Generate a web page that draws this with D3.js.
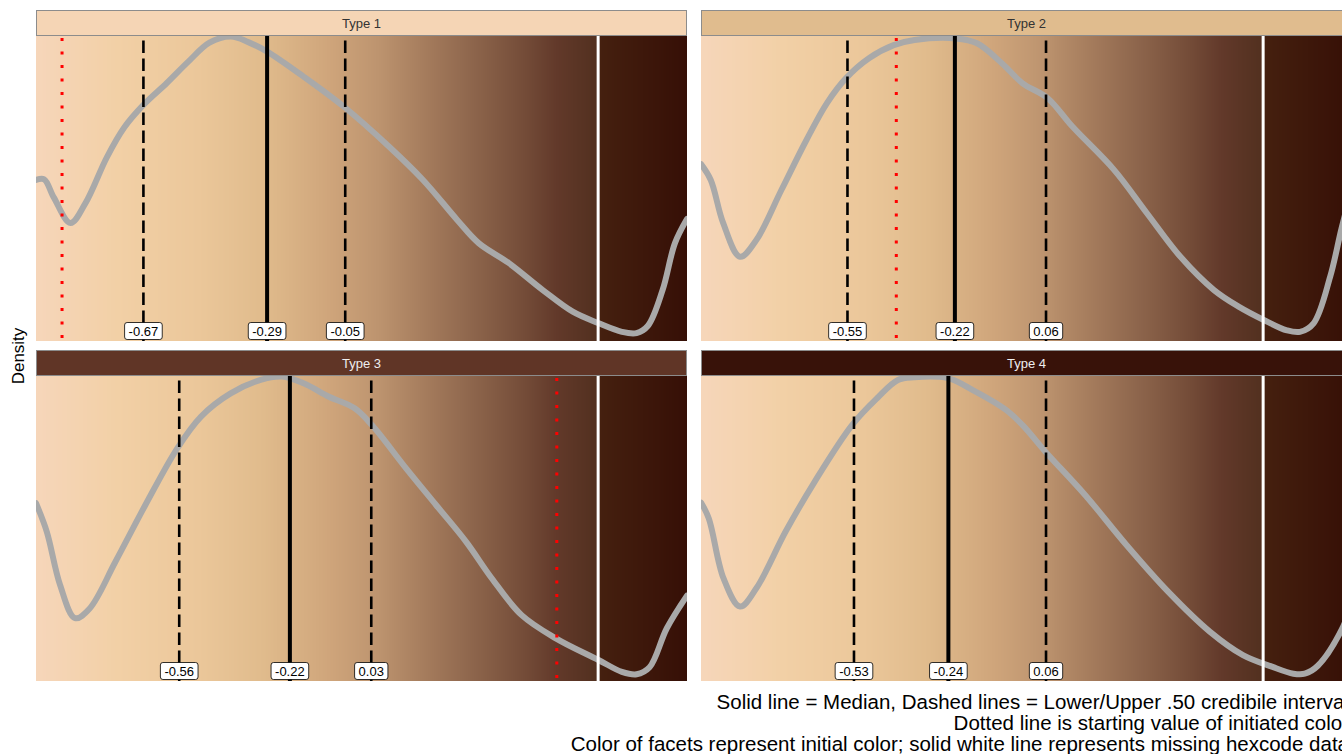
<!DOCTYPE html>
<html>
<head>
<meta charset="utf-8">
<script src="https://cdn.jsdelivr.net/npm/d3@7"></script>
<style>
  html, body { margin: 0; padding: 0; background: #fff; }
  svg { display: block; font-family: "Liberation Sans", Arial, sans-serif; }
</style>
</head>
<body>
<svg id="chart" width="1342" height="754"></svg>
<script>
// ---------------- DATA ----------------
const categories = ["Type 1", "Type 2", "Type 3", "Type 4"];
const stripColors = ["#f5d5b5", "#e0bc8e", "#603526", "#381209"];
const stripTextColors = ["#333333", "#333333", "#eeeeee", "#eeeeee"];
const lowerValues = [-0.67, -0.55, -0.56, -0.53];
const medianValues = [-0.29, -0.22, -0.22, -0.24];
const upperValues = [-0.05, 0.06, 0.03, 0.06];
const startValues = [-0.92, -0.40, 0.60, 0.99];
const missingHexValue = 0.727;

// skin-tone hex codes along the colour axis
const toneValues = [-1.0, -0.75, -0.5, -0.3, -0.1, 0.05, 0.2, 0.35, 0.5, 0.6, 0.725];
const toneColors = ["#f6d6ba", "#f2d0a6", "#ebc79a", "#e0bb8c", "#cfa57b", "#bd946f",
                    "#a47b5c", "#8c644b", "#744c38", "#62392a", "#52301f"];
const darkToneValues = [0.73, 1.0];
const darkToneColors = ["#45200f", "#360f06"];

// relative density (x = colour score, y = density scaled to panel max)
const density1 = [[-1.0,0.528],[-0.975,0.53],[-0.945,0.47],[-0.894,0.387],[-0.848,0.452],[-0.782,0.603],
  [-0.729,0.70],[-0.67,0.774],[-0.598,0.846],[-0.532,0.916],[-0.467,0.978],[-0.401,0.998],[-0.348,0.98],
  [-0.29,0.949],[-0.178,0.867],[-0.054,0.768],[0.085,0.637],[0.189,0.528],[0.294,0.397],[0.36,0.321],
  [0.452,0.256],[0.557,0.167],[0.649,0.096],[0.727,0.059],[0.80,0.03],[0.845,0.026],[0.88,0.05],
  [0.925,0.167],[0.963,0.321],[1.0,0.40]];
const density2 = [[-1.0,0.58],[-0.97,0.528],[-0.932,0.387],[-0.88,0.276],[-0.83,0.331],[-0.753,0.495],
  [-0.676,0.659],[-0.613,0.78],[-0.555,0.861],[-0.484,0.927],[-0.408,0.97],[-0.344,0.987],[-0.217,0.992],
  [-0.152,0.976],[-0.075,0.91],[-0.012,0.845],[0.065,0.796],[0.141,0.703],[0.269,0.561],[0.37,0.419],
  [0.473,0.276],[0.576,0.167],[0.653,0.112],[0.729,0.069],[0.80,0.035],[0.84,0.03],[0.882,0.058],
  [0.933,0.211],[0.968,0.37],[1.0,0.50]];
const density3 = [[-1.0,0.583],[-0.967,0.49],[-0.926,0.315],[-0.88,0.206],[-0.835,0.238],[-0.756,0.391],
  [-0.664,0.577],[-0.566,0.763],[-0.493,0.867],[-0.402,0.943],[-0.31,0.987],[-0.244,0.998],[-0.178,0.976],
  [-0.10,0.932],[-0.021,0.894],[0.032,0.839],[0.137,0.697],[0.229,0.577],[0.321,0.457],[0.40,0.337],
  [0.492,0.216],[0.597,0.14],[0.728,0.069],[0.80,0.03],[0.845,0.022],[0.885,0.045],[0.938,0.173],[1.0,0.28]];
const density4 = [[-1.0,0.585],[-0.976,0.533],[-0.931,0.337],[-0.88,0.244],[-0.83,0.304],[-0.74,0.49],
  [-0.651,0.653],[-0.536,0.839],[-0.459,0.927],[-0.395,0.987],[-0.344,0.996],[-0.242,0.993],[-0.165,0.954],
  [-0.063,0.889],[-0.012,0.839],[0.058,0.752],[0.18,0.61],[0.307,0.446],[0.435,0.293],[0.563,0.162],
  [0.665,0.085],[0.754,0.047],[0.82,0.024],[0.855,0.024],[0.895,0.05],[0.969,0.17],[1.0,0.26]];
const densities = [density1, density2, density3, density4];

const yAxisTitle = "Density";
const captionLines = [
  "Solid line = Median, Dashed lines = Lower/Upper .50 credibile interval",
  "Dotted line is starting value of initiated color",
  "Color of facets represent initial color; solid white line represents missing hexcode data"
];

// ---------------- LAYOUT ----------------
const svg = d3.select("#chart");
const panelW = 651, plotH = 305, stripH = 26;
const colX = [36, 701];
const rowTop = [10, 350];

const toneScale = d3.scaleLinear().domain(toneValues).range(toneColors).interpolate(d3.interpolateRgb);
const darkScale = d3.scaleLinear().domain(darkToneValues).range(darkToneColors).interpolate(d3.interpolateRgb);

const defs = svg.append("defs");

categories.forEach((cat, i) => {
  const col = i % 2, row = Math.floor(i / 2);
  const x0 = colX[col], sTop = rowTop[row], pTop = sTop + stripH;
  const x = d3.scaleLinear().domain([-1, 1]).range([x0, x0 + panelW]);
  const y = d3.scaleLinear().domain([0, 1]).range([pTop + plotH, pTop]);

  defs.append("clipPath").attr("id", "clip" + i)
    .append("rect").attr("x", x0).attr("y", pTop).attr("width", panelW).attr("height", plotH);

  const g = svg.append("g").attr("clip-path", `url(#clip${i})`);

  // background colour tiles (one per pixel column)
  const tiles = d3.range(panelW).map(k => x.invert(x0 + k + 0.5));
  g.selectAll("rect.tile").data(tiles).join("rect")
    .attr("class", "tile")
    .attr("x", d => Math.floor(x(d)))
    .attr("y", pTop)
    .attr("width", 1.5)
    .attr("height", plotH)
    .attr("shape-rendering", "crispEdges")
    .attr("fill", d => d < missingHexValue ? toneScale(d) : darkScale(d));

  // density curve
  const line = d3.line().x(d => x(d[0])).y(d => y(d[1])).curve(d3.curveCatmullRom.alpha(0.5));
  g.append("path").datum(densities[i])
    .attr("d", line)
    .attr("fill", "none")
    .attr("stroke", "#a9a9a9")
    .attr("stroke-width", 6)
    .attr("stroke-linecap", "round")
    .attr("stroke-linejoin", "round");

  // missing hexcode white line
  g.append("line")
    .attr("x1", x(missingHexValue)).attr("x2", x(missingHexValue))
    .attr("y1", pTop).attr("y2", pTop + plotH)
    .attr("stroke", "#ffffff").attr("stroke-width", 3);

  // dashed lower/upper
  [lowerValues[i], upperValues[i]].forEach(v => {
    g.append("line")
      .attr("x1", x(v)).attr("x2", x(v))
      .attr("y1", pTop + plotH).attr("y2", pTop)
      .attr("stroke", "#000").attr("stroke-width", 2.6)
      .attr("stroke-dasharray", "12.5,5.5");
  });
  // solid median
  g.append("line")
    .attr("x1", x(medianValues[i])).attr("x2", x(medianValues[i]))
    .attr("y1", pTop).attr("y2", pTop + plotH)
    .attr("stroke", "#000").attr("stroke-width", 4);

  // dotted start
  g.append("line")
    .attr("x1", x(startValues[i])).attr("x2", x(startValues[i]))
    .attr("y1", pTop + 2).attr("y2", pTop + plotH)
    .attr("stroke", "#ff0000").attr("stroke-width", 3)
    .attr("stroke-dasharray", "3,10.5");

  // labels
  [lowerValues[i], medianValues[i], upperValues[i]].forEach(v => {
    const cx = x(v), cy = pTop + plotH - 10;
    const t = v.toFixed(2);
    const lg = svg.append("g");
    const txt = lg.append("text")
      .attr("x", cx).attr("y", cy + 4.5)
      .attr("text-anchor", "middle")
      .attr("font-size", 13)
      .attr("fill", "#000")
      .text(t);
    const w = txt.node().getComputedTextLength() + 8;
    lg.insert("rect", "text")
      .attr("x", cx - w / 2).attr("y", cy - 8.5)
      .attr("width", w).attr("height", 17)
      .attr("rx", 2.5).attr("ry", 2.5)
      .attr("fill", "#fff").attr("stroke", "#000").attr("stroke-width", 0.8);
  });

  // strip
  svg.append("rect")
    .attr("x", x0 + 0.5).attr("y", sTop + 0.5)
    .attr("width", panelW - 1).attr("height", stripH - 1)
    .attr("fill", stripColors[i])
    .attr("stroke", "#8c8c8c").attr("stroke-width", 1);
  svg.append("text")
    .attr("x", x0 + panelW / 2).attr("y", sTop + stripH / 2 + 4.5)
    .attr("text-anchor", "middle")
    .attr("font-size", 13)
    .attr("fill", stripTextColors[i])
    .text(cat);
});

// y axis title
svg.append("text")
  .attr("transform", "translate(24,356) rotate(-90)")
  .attr("text-anchor", "middle")
  .attr("font-size", 17)
  .attr("fill", "#000")
  .text(yAxisTitle);

// caption
const capBase = [709, 730, 751];
captionLines.forEach((c, k) => {
  svg.append("text")
    .attr("x", 1349).attr("y", capBase[k])
    .attr("text-anchor", "end")
    .attr("font-size", 20.5)
    .attr("fill", "#000")
    .text(c);
});
</script>
</body>
</html>
